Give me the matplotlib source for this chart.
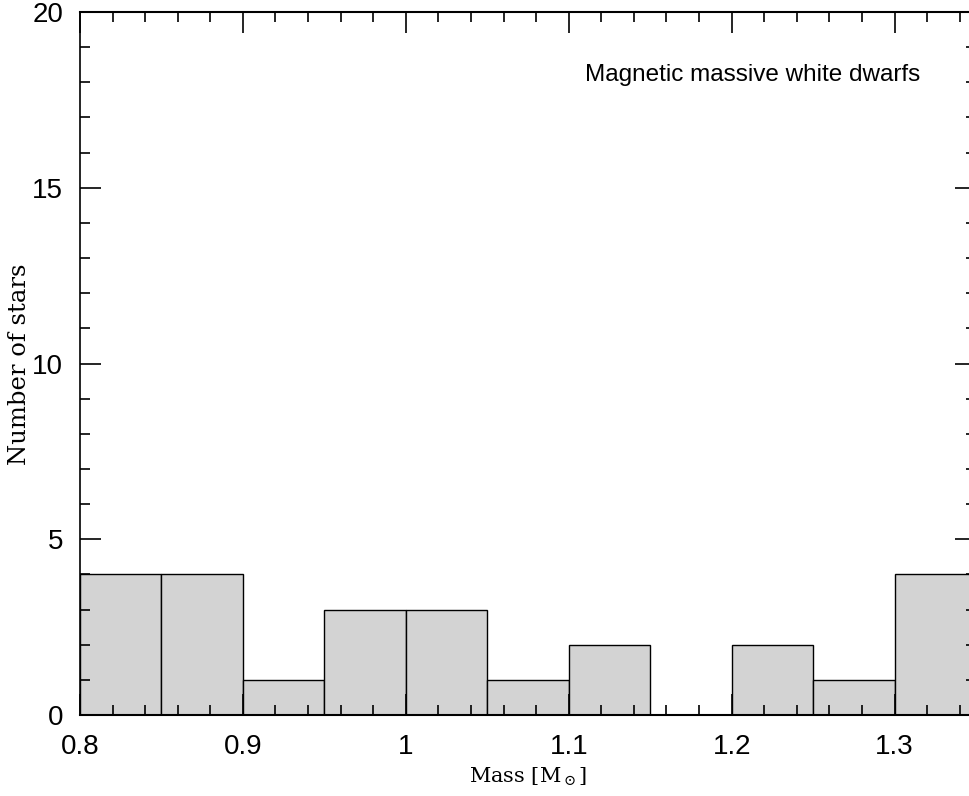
import numpy as np
import matplotlib
matplotlib.use('Agg')
import matplotlib.pyplot as plt
from matplotlib.ticker import MultipleLocator

# histogram of magnetic massive white dwarf masses
bin_edges = [0.80, 0.85, 0.90, 0.95, 1.00, 1.05, 1.10, 1.15, 1.20, 1.25, 1.30, 1.35]
counts = [4, 4, 1, 3, 3, 1, 2, 0, 2, 1, 4]
xticks = [0.8, 0.9, 1.0, 1.1, 1.2, 1.3]
xticklabels = ['0.8', '0.9', '1', '1.1', '1.2', '1.3']
yticks = [0, 5, 10, 15, 20]

plt.rcParams['mathtext.fontset'] = 'dejavuserif'

W, H = 970, 796
fig = plt.figure(figsize=(W / 100, H / 100), dpi=100)
ax = fig.add_axes([80 / W, (H - 715) / H, (976 - 80) / W, (715 - 12) / H])

ax.hist(bin_edges[:-1], bins=bin_edges, weights=counts,
        facecolor='#d3d3d3', edgecolor='black', linewidth=1.0)

ax.set_xlim(0.8, 1.35)
ax.set_ylim(0, 20)
ax.set_xticks(xticks)
ax.set_xticklabels(xticklabels)
ax.set_yticks(yticks)
ax.xaxis.set_minor_locator(MultipleLocator(0.02))
ax.yaxis.set_minor_locator(MultipleLocator(1))

ax.tick_params(which='both', direction='in', top=True, right=True, width=1.2)
ax.tick_params(which='major', length=15, labelsize=20)
ax.tick_params(axis='x', which='major', pad=14)
ax.tick_params(axis='y', which='major', pad=12)
ax.tick_params(which='minor', length=7)
for lab in ax.get_xticklabels() + ax.get_yticklabels():
    lab.set_family('Liberation Sans')

for sp in ax.spines.values():
    sp.set_linewidth(1.5)
ax.spines['left'].set_linewidth(1.2)

ax.set_xlabel(r'Mass [M$_\odot$]', family='DejaVu Serif', fontsize=15, labelpad=4)
fig.text(20 / W, 1 - 364 / H, 'Number of stars', rotation=90, family='DejaVu Serif',
         fontsize=17.5, ha='center', va='center')

ax.text(753 / W, 1 - 75 / H, 'Magnetic massive white dwarfs', transform=fig.transFigure,
        ha='center', va='center', fontsize=17.5, family='Liberation Sans')

fig.savefig('out.png', dpi=100)
